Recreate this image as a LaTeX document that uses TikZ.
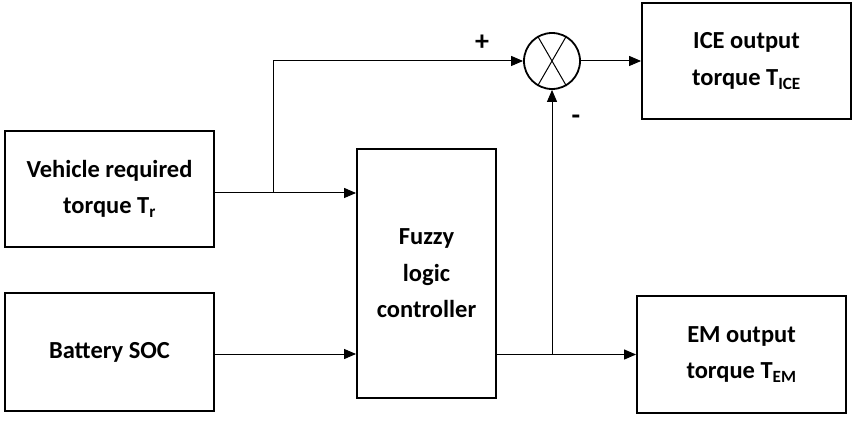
\documentclass[tikz,border=0pt]{standalone}
\usepackage{fontspec}
\setmainfont{Carlito}
\usetikzlibrary{arrows.meta,calc}
\tikzset{
  blk/.style={draw, line width=1.8pt, align=center, inner sep=0pt,
    font=\fontsize{24.5}{36.5}\selectfont\bfseries},
  conn/.style={line width=1pt},
  arr/.style={conn, -{Triangle[length=12pt,width=10pt]}},
  sgn/.style={font=\fontsize{28}{30}\selectfont\bfseries, inner sep=0pt}
}
\begin{document}
\begin{tikzpicture}[x=1pt,y=-1pt]
\useasboundingbox (0,0) rectangle (857,422);
\node[blk, minimum width=209pt, minimum height=116pt] (veh) at (109.5,189) {Vehicle required\\torque T\textsubscript{r}};
\node[blk, minimum width=209pt, minimum height=118pt] (bat) at (109.5,352) {Battery SOC};
\node[blk, minimum width=139pt, minimum height=249pt] (fuz) at (426.5,273.5) {Fuzzy\\logic\\controller};
\node[blk, minimum width=209pt, minimum height=116pt] (ice) at (746.5,61) {ICE output\\torque T\textsubscript{ICE}};
\node[blk, minimum width=209pt, minimum height=117pt] (em) at (741.5,354.5) {EM output\\torque T\textsubscript{EM}};
\node[draw, circle, line width=1.8pt, minimum size=56pt, inner sep=0pt] (sum) at (552,61) {};
\draw[conn] (sum.120) -- (sum.300);
\draw[conn] (sum.60) -- (sum.240);
% connectors
\coordinate (vo) at ([yshift=-4pt]veh.east);
\coordinate (br1) at (273,0 |- vo);
\draw[arr] (vo) -- (fuz.west |- vo);
\draw[arr] (br1) |- (sum.west);
\coordinate (bo) at ([yshift=-2pt]bat.east);
\draw[arr] (bo) -- (fuz.west |- bo);
\coordinate (fo) at (fuz.east |- em.west);
\coordinate (br2) at (sum.south |- fo);
\draw[arr] (fo) -- (em.west);
\draw[arr] (br2) -- (sum.south);
\draw[arr] (sum.east) -- (ice.west |- sum.east);
\node[sgn] (plus) at (482,43) {+};
\node[sgn] (minus) at (576,120) {-};
\end{tikzpicture}
\end{document}
